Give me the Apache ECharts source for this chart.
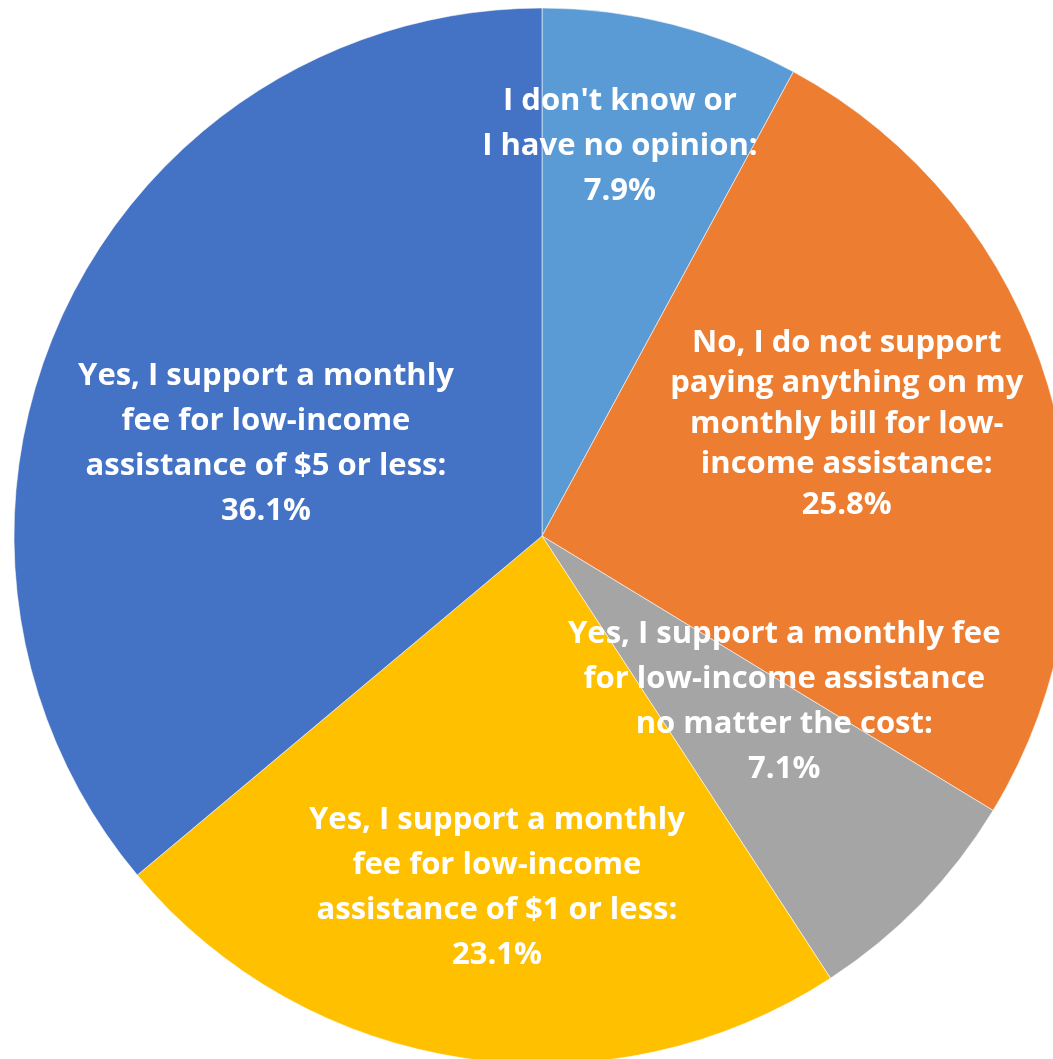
<!DOCTYPE html>
<html>
<head>
<meta charset="utf-8">
<script src="https://cdn.jsdelivr.net/npm/echarts@6/dist/echarts.min.js"></script>
<style>
  html, body { margin: 0; padding: 0; background: #fff; }
  #chart { width: 1053px; height: 1059px; }
</style>
</head>
<body>
<div id="chart"></div>
<script>
// 各扇区名称（按图中换行）
const categories = [
  "I don't know or\nI have no opinion:",
  'No, I do not support\npaying anything on my\nmonthly bill for low-\nincome assistance:',
  'Yes, I support a monthly fee\nfor low-income assistance\nno matter the cost:',
  'Yes, I support a monthly\nfee for low-income\nassistance of $1 or less:',
  'Yes, I support a monthly\nfee for low-income\nassistance of $5 or less:'
]
const values = [7.9, 25.8, 7.1, 23.1, 36.1]
const colors = ['#5B9BD5', '#ED7D31', '#A5A5A5', '#FFC000', '#4472C4']

const cx = 542
const cy = 536
const radius = 528
// 标签位置：角度（顺时针，从顶部起）和半径比例
const labelAngle = [11.3, 69.8, 124.4, 187.3, 288.4]
const labelDist = [0.753, 0.615, 0.556, 0.672, 0.551]
const lineHeights = [45, 40.5, 45, 45, 45]

const chart = echarts.init(document.getElementById('chart'))

const option = {
  animation: false,
  backgroundColor: '#fff',
  series: [
    {
      type: 'pie',
      center: [cx, cy],
      radius: radius,
      startAngle: 90,
      clockwise: true,
      silent: true,
      itemStyle: {
        borderColor: 'rgba(255,255,255,0.55)',
        borderWidth: 1
      },
      label: {
        show: true,
        position: 'inside',
        color: '#fff',
        fontFamily: '"Open Sans", sans-serif',
        fontWeight: 'bold',
        fontSize: 31,
        align: 'center',
        formatter: (p) => `${p.name}\n${p.value.toFixed(1)}%`
      },
      labelLine: { show: false },
      labelLayout: (params) => {
        const i = params.dataIndex
        const a = labelAngle[i] * Math.PI / 180
        const d = labelDist[i] * radius
        return {
          x: cx + d * Math.sin(a),
          y: cy - d * Math.cos(a)
        }
      },
      data: values.map((v, i) => ({
        name: categories[i],
        value: v,
        itemStyle: { color: colors[i] },
        label: { lineHeight: lineHeights[i] }
      }))
    }
  ]
}

chart.setOption(option)
</script>
</body>
</html>
